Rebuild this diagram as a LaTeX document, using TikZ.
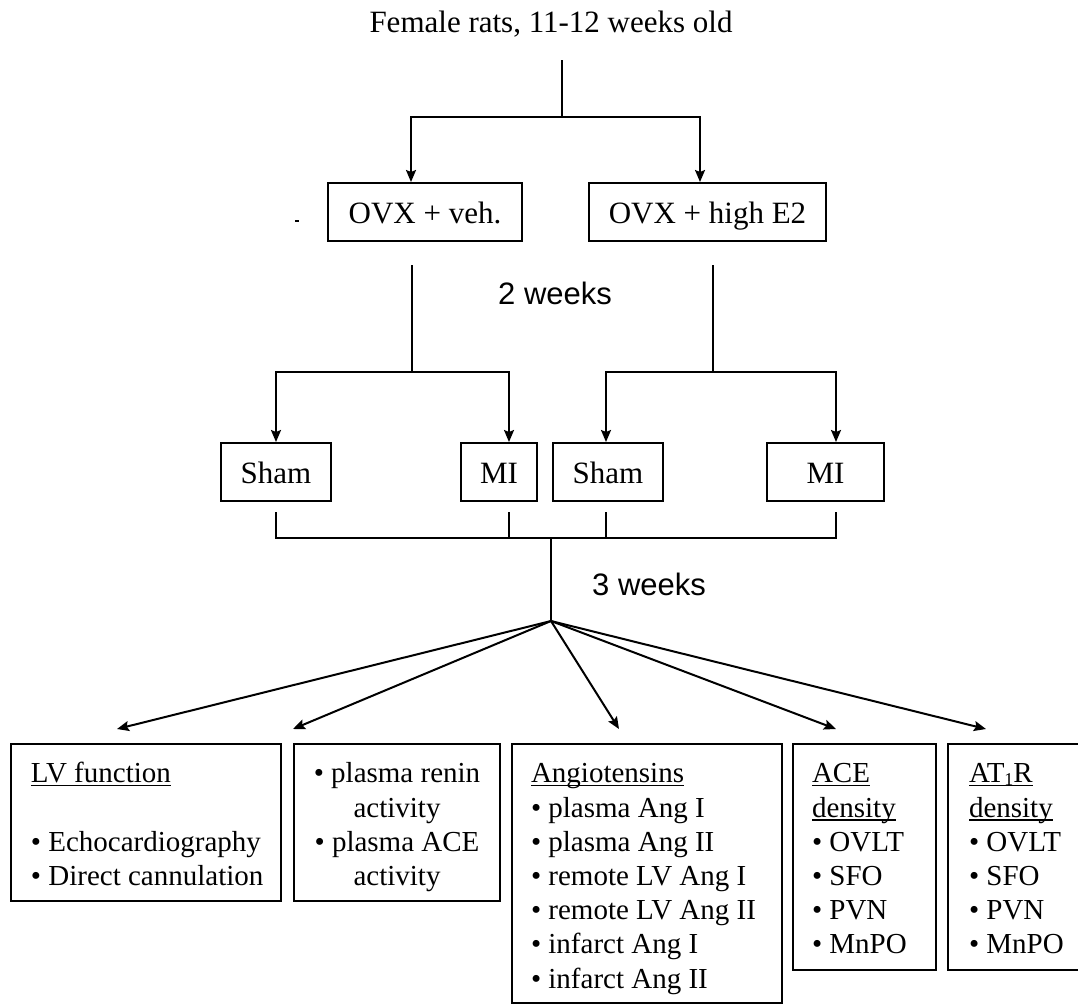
\documentclass[tikz,border=0pt]{standalone}
\usepackage{fontspec}
\setmainfont{Liberation Serif}
\setsansfont{Liberation Sans}
\usetikzlibrary{arrows.meta}
\newcommand\myul[1]{\setbox0=\hbox{#1}\rlap{\rule[-3.5pt]{\wd0}{1.5pt}}\box0}
\newcommand\lline[1]{\strut#1\par}
\newcommand\leftlist[4]{\parbox[c][#2][t]{#1}{\leftskip=#3\rightskip=0pt plus 1fil\parfillskip=0pt plus 1fil\parindent=0pt\vspace*{15pt}#4}}
\newcommand\centlist[3]{\parbox[c][#2][t]{#1}{\leftskip=0pt plus 1fil\rightskip=0pt plus 1fil\parfillskip=0pt\parindent=0pt\vspace*{15pt}#3}}
\begin{document}
\begin{tikzpicture}[x=1pt,y=-1pt,
 ln/.style={line width=2pt},
 arr/.style={line width=2pt,-{Stealth[length=12pt,width=10pt,inset=2pt]}},
 topbox/.style={draw,line width=2pt,inner sep=0pt,minimum height=58pt,font=\fontsize{31}{37}\selectfont,text height=22pt,text depth=0pt},
 lowbox/.style={draw,line width=2pt,inner sep=0pt,anchor=north west,font=\fontsize{29}{34.2}\selectfont},
 wk/.style={font=\sffamily\fontsize{31}{37}\selectfont,anchor=base west,inner sep=0pt}]
\useasboundingbox (0,0) rectangle (1078,1004);
\clip (0,0) rectangle (1078,1004);

% top
\node[font=\fontsize{31}{37}\selectfont,anchor=base,inner sep=0pt] (title) at (551,32) {Female rats, 11-12 weeks old};
\coordinate (top) at (562,60);
\coordinate (split) at (562,117);
\node[topbox,minimum width=194pt] (veh) at (425,212) {OVX + veh.};
\node[topbox,minimum width=237pt] (e2) at (707.5,212) {OVX + high E2};
\draw[ln] (top) -- (split);
\draw[arr] (split) -| ([xshift=-14pt]veh.north);
\draw[arr] (split) -| ([xshift=-7.5pt]e2.north);
\draw[line width=1.5pt] (295,221) -- (299,221);

% 2 weeks
\node[wk] (w2) at (498,304) {2 weeks};
\coordinate (vA) at (412,265);
\coordinate (jA) at (412,372);
\coordinate (vB) at (713,265);
\coordinate (jB) at (713,372);
\node[topbox,minimum width=110pt] (sham1) at (276,472) {Sham};
\node[topbox,minimum width=76pt] (mi1) at (499,472) {MI};
\node[topbox,minimum width=110pt] (sham2) at (608,472) {Sham};
\node[topbox,minimum width=117pt] (mi2) at (825.5,472) {MI};
\draw[ln] (vA) -- (jA);
\draw[ln] (vB) -- (jB);
\draw[arr] (jA) -| (sham1.north);
\draw[arr] (jA) -| ([xshift=10pt]mi1.north);
\draw[arr] (jB) -| ([xshift=-2pt]sham2.north);
\draw[arr] (jB) -| ([xshift=10.5pt]mi2.north);

% join, 3 weeks
\coordinate (jC) at (551,538);
\coordinate (fan) at (551,621);
\draw[ln] ([yshift=-10pt]sham1.south) |- (jC);
\draw[ln] ([xshift=10pt,yshift=-10pt]mi1.south) |- (jC);
\draw[ln] ([xshift=-2pt,yshift=-10pt]sham2.south) |- (jC);
\draw[ln] ([xshift=10.5pt,yshift=-10pt]mi2.south) |- (jC);
\draw[ln] (jC) -- (fan);
\node[wk] (w3) at (592,595) {3 weeks};

% bottom boxes
\node[lowbox] (lv) at (10,743) {\leftlist{270pt}{157pt}{20pt}{\lline{\myul{LV function}}\lline{}\lline{• Echocardiography}\lline{• Direct cannulation}}};
\node[lowbox] (pl) at (293,743) {\centlist{206pt}{157pt}{\lline{• plasma renin}\lline{activity}\lline{• plasma ACE}\lline{activity}}};
\node[lowbox] (ang) at (511,743) {\leftlist{270pt}{259pt}{19pt}{\lline{\myul{Angiotensins}}\lline{• plasma Ang I}\lline{• plasma Ang II}\lline{• remote LV Ang I}\lline{• remote LV Ang II}\lline{• infarct Ang I}\lline{• infarct Ang II}}};
\node[lowbox] (ace) at (792,743) {\leftlist{143pt}{226pt}{19pt}{\lline{\myul{ACE}}\lline{\myul{density}}\lline{• OVLT}\lline{• SFO}\lline{• PVN}\lline{• MnPO}}};
\node[lowbox] (at1) at (947,743) {\leftlist{143pt}{226pt}{21pt}{\lline{\myul{AT\raisebox{-3pt}{\fontsize{18}{18}\selectfont 1}R}}\lline{\myul{density}}\lline{• OVLT}\lline{• SFO}\lline{• PVN}\lline{• MnPO}}};

\draw[arr] (fan) -- ([xshift=107pt,yshift=14pt]lv.north west);
\draw[arr] (fan) -- ([yshift=14pt]pl.north west);
\draw[arr] (fan) -- ([xshift=108pt,yshift=14pt]ang.north west);
\draw[arr] (fan) -- ([xshift=44pt,yshift=14pt]ace.north west);
\draw[arr] (fan) -- ([xshift=39pt,yshift=14pt]at1.north west);
\end{tikzpicture}
\end{document}
